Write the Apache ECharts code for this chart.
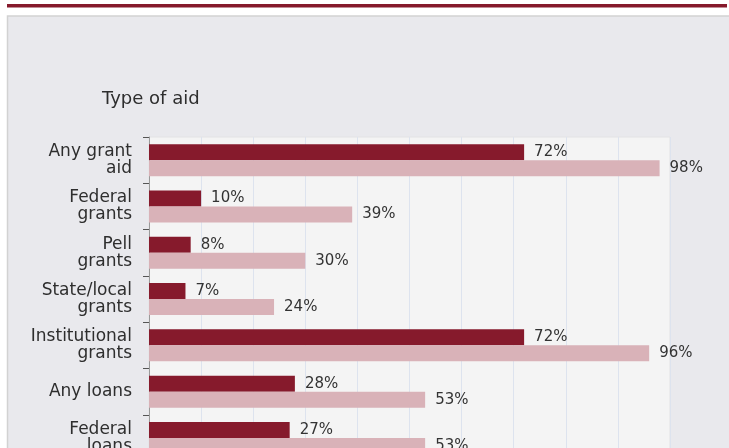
<!DOCTYPE html>
<html>
<head>
<meta charset="utf-8">
<script src="https://cdn.jsdelivr.net/npm/echarts@6/dist/echarts.min.js"></script>
<style>
  html, body { margin: 0; padding: 0; background: #ffffff; overflow: hidden; width: 729px; height: 448px; }
  #chart { width: 729px; height: 480px; }
</style>
</head>
<body>
<div id="chart"></div>
<script>
// Tick labels (categories), top to bottom
const categories = [
  "Any grant\naid",
  "Federal\ngrants",
  "Pell\ngrants",
  "State/local\ngrants",
  "Institutional\ngrants",
  "Any loans",
  "Federal\nloans"
];
// Series values (percent)
const darkValues  = [72, 10, 8, 7, 72, 28, 27];
const lightValues = [98, 39, 30, 24, 96, 53, 53];
const xTicks = [0, 10, 20, 30, 40, 50, 60, 70, 80, 90, 100];

const chart = echarts.init(document.getElementById('chart'), null, { renderer: 'canvas' });

const FONT = 'DejaVu Sans';
const labelStyle = {
  show: true,
  position: 'right',
  distance: 10,
  formatter: '{c}%',
  fontFamily: FONT,
  fontSize: 15,
  color: '#333333'
};

chart.setOption({
  backgroundColor: '#ffffff',
  animation: false,
  graphic: [
    { type: 'rect', z: -20, shape: { x: 7, y: 4, width: 720, height: 3.5 }, style: { fill: '#861a2c' } },
    { type: 'rect', z: -20, shape: { x: 7.5, y: 16, width: 760, height: 480 },
      style: { fill: '#e9e9ed', stroke: '#d2d2d2', lineWidth: 1.5 } }
  ],
  title: {
    text: 'Type of aid',
    left: 97,
    top: 85,
    textStyle: { fontFamily: FONT, fontSize: 18, fontWeight: 'normal', color: '#2e2e2e' }
  },
  grid: {
    left: 149,
    top: 137,
    width: 521,
    height: 46.3 * categories.length,
    show: true,
    backgroundColor: '#f4f4f4',
    borderColor: '#e2e2e4',
    borderWidth: 1,
    containLabel: false
  },
  xAxis: {
    type: 'value',
    min: xTicks[0],
    max: xTicks[xTicks.length - 1],
    interval: xTicks[1] - xTicks[0],
    axisLabel: { show: false },
    axisLine: { show: false },
    axisTick: { show: false },
    splitLine: { show: true, lineStyle: { color: '#dde3ee', width: 1 } }
  },
  yAxis: {
    type: 'category',
    inverse: true,
    data: categories,
    axisLine: { show: true, lineStyle: { color: '#9a9a9a', width: 1 } },
    axisTick: { show: true, length: 6, lineStyle: { color: '#555555', width: 1 } },
    axisLabel: {
      margin: 17,
      fontFamily: FONT,
      fontSize: 17,
      lineHeight: 17,
      color: '#2e2e2e',
      align: 'right'
    },
    splitLine: { show: false }
  },
  series: [
    {
      name: 'Dark',
      type: 'bar',
      data: darkValues,
      barWidth: 16,
      barGap: '0%',
      itemStyle: { color: '#861a2c' },
      label: labelStyle
    },
    {
      name: 'Light',
      type: 'bar',
      data: lightValues,
      barWidth: 16,
      barGap: '0%',
      itemStyle: { color: '#d9b2b8' },
      label: labelStyle
    }
  ]
});
</script>
</body>
</html>
